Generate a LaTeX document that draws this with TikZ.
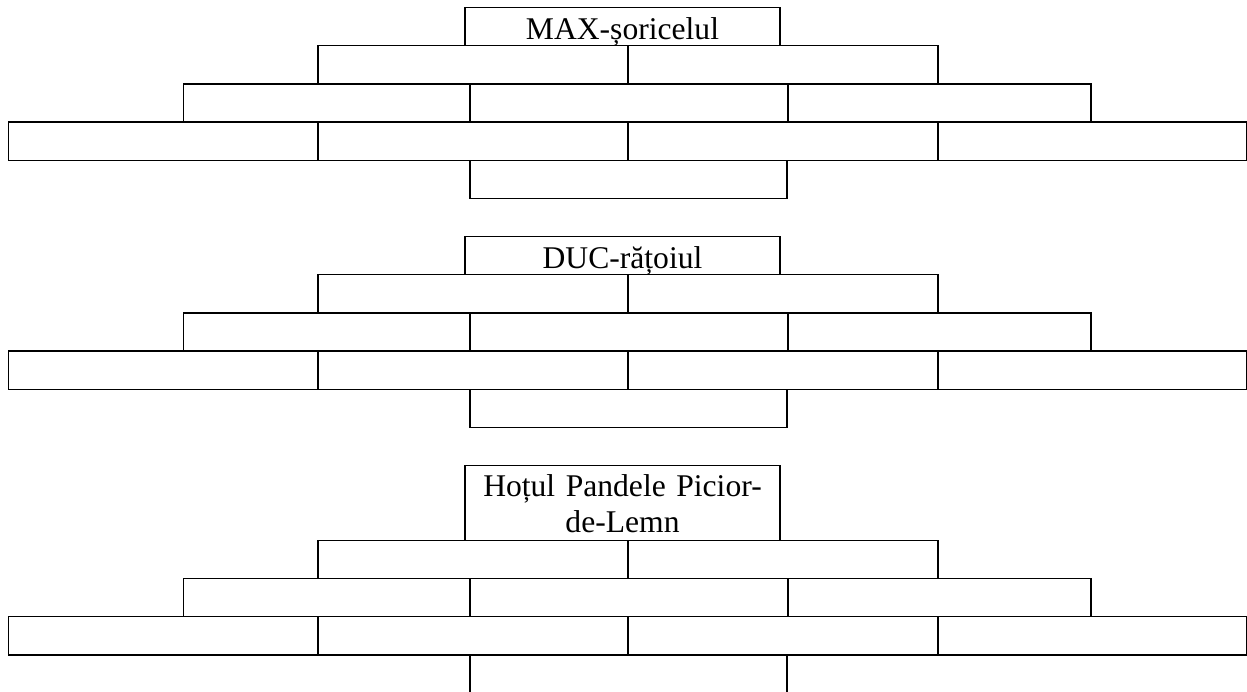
\documentclass[tikz,border=0pt]{standalone}
\usepackage{fontspec}
\setmainfont{Liberation Serif}
\tikzset{
	cell/.style={draw, line width=0.75pt, inner sep=0pt, minimum height=19.1pt},
	title/.style={cell, font=\fontsize{15.8pt}{18pt}\selectfont, align=center}
}

\begin{document}
\begin{tikzpicture}[x=0.5pt, y=-0.5pt]
			\useasboundingbox (0,0) rectangle (1247,691);
			\clip (0,0) rectangle (1247,691);
			
			% zidurile de cărămizi (rândurile de sub fiecare personaj)
			\foreach \R/\n in {45.7/max, 274.7/duc, 540.3/hot}{
				\foreach \xa/\xb/\dy [count=\i] in {318/628/19.1, 628/938/19.1,
						183.7/470/57.3, 470/788/57.3, 788/1091/57.3,
						8.7/318/95.5, 318/628/95.5, 628/938/95.5, 938/1246.3/95.5,
						470/787/133.7}
					\node[cell, minimum width={(\xb-\xa)*0.5pt}] (\n-\i) at ({(\xa+\xb)/2}, {\R+\dy}) {};
			}
			
			% personajele
			\node[title, minimum width=157.5pt, text height=15.75pt, text depth=3.35pt] (max-top) at (622.5, 26.6) {MAX-șoricelul};
			\node[title, minimum width=157.5pt, text height=15.75pt, text depth=3.35pt] (duc-top) at (622.5, 255.6) {DUC-rățoiul};
			\node[title, text width=157.5pt, text height=15.5pt, text depth=21.8pt] (hot-top) at (622.5, 503) {Hoțul Pandele Picior-\\de-Lemn};
		\end{tikzpicture}
\end{document}
